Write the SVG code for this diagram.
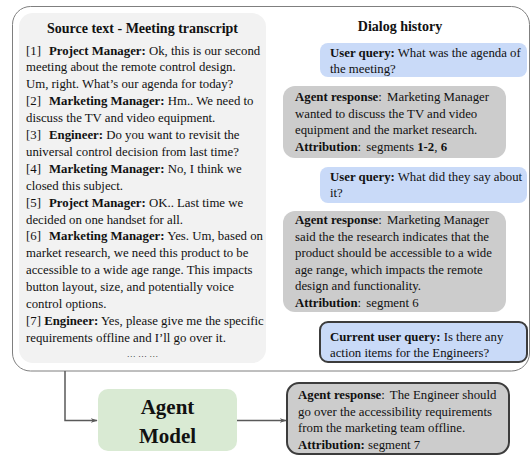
<svg xmlns="http://www.w3.org/2000/svg" width="532" height="456" viewBox="0 0 532 456">
<style>
text{font-family:"Liberation Serif","DejaVu Serif",serif;font-size:12.8px;fill:#111}
.b{font-weight:bold}
.h{font-weight:bold;font-size:14px}
.big{font-weight:bold;font-size:21px}
.uq{fill:#c9daf8}
.ar{fill:#cccccc}
.hl{stroke:#3c3c3c;stroke-width:2}
.conn{fill:none;stroke:#595959;stroke-width:1.5}
</style>
<defs>
<marker id="ah" viewBox="0 0 10 10" refX="9" refY="5" markerWidth="7" markerHeight="7" orient="auto" markerUnits="userSpaceOnUse">
<path d="M0,1.5 L10,5 L0,8.5 L3,5 Z" fill="#595959"/>
</marker>
</defs>
<g id="container">
<rect x="12.5" y="6.5" width="517" height="364.5" rx="18" fill="#fff" stroke="#7f7f7f" stroke-width="1"/>
</g>
<g id="source">
<rect x="19" y="13" width="247" height="350" rx="14" fill="#f2f2f2"/>
<text class="h" x="142.5" y="33" text-anchor="middle">Source text - Meeting transcript</text>
<text x="26" y="54.5">[1]<tspan class="b" x="49">Project Manager:</tspan> Ok, this is our second</text>
<text x="26" y="71.4">meeting about the remote control design.</text>
<text x="26" y="88.3">Um, right. What’s our agenda for today?</text>
<text x="26" y="105.2">[2]<tspan class="b" x="49">Marketing Manager:</tspan> Hm.. We need to</text>
<text x="26" y="122.1">discuss the TV and video equipment.</text>
<text x="26" y="139">[3]<tspan class="b" x="49">Engineer:</tspan> Do you want to revisit the</text>
<text x="26" y="155.9">universal control decision from last time?</text>
<text x="26" y="172.8">[4]<tspan class="b" x="49">Marketing Manager:</tspan> No, I think we</text>
<text x="26" y="189.7">closed this subject.</text>
<text x="26" y="206.6">[5]<tspan class="b" x="49">Project Manager:</tspan> OK.. Last time we</text>
<text x="26" y="223.5">decided on one handset for all.</text>
<text x="26" y="240.4">[6]<tspan class="b" x="49">Marketing Manager:</tspan> Yes. Um, based on</text>
<text x="26" y="257.3">market research, we need this product to be</text>
<text x="26" y="274.2">accessible to a wide age range. This impacts</text>
<text x="26" y="291.1">button layout, size, and potentially voice</text>
<text x="26" y="308">control options.</text>
<text x="26" y="324.9">[7] <tspan class="b">Engineer:</tspan> Yes, please give me the specific</text>
<text x="26" y="341.8">requirements offline and I’ll go over it.</text>
<text x="142.5" y="357" text-anchor="middle" style="font-size:9px">… … …</text>
</g>
<g id="dialog">
<text class="h" x="400" y="31" text-anchor="middle">Dialog history</text>
</g>
<g id="uq1">
<rect class="uq" x="320" y="43" width="207" height="34" rx="8"/>
<text x="330" y="57"><tspan class="b">User query:</tspan> What was the agenda of</text>
<text x="330" y="72.5">the meeting?</text>
</g>
<g id="ar1">
<rect class="ar" x="283" y="86" width="223" height="72" rx="12"/>
<text x="295" y="101"><tspan class="b">Agent response</tspan>: <tspan dx="2">Marketing Manager</tspan></text>
<text x="295" y="117.7">wanted to discuss the TV and video</text>
<text x="295" y="134.4">equipment and the market research.</text>
<text x="295" y="151"><tspan class="b">Attribution</tspan>: <tspan dx="2">segments </tspan><tspan class="b">1-2</tspan>, <tspan class="b">6</tspan></text>
</g>
<g id="uq2">
<rect class="uq" x="320" y="167" width="207" height="36" rx="8"/>
<text x="330" y="181"><tspan class="b">User query:</tspan> What did they say about</text>
<text x="330" y="197">it?</text>
</g>
<g id="ar2">
<rect class="ar" x="283" y="211" width="223" height="101" rx="12"/>
<text x="295" y="224"><tspan class="b">Agent response</tspan>: <tspan dx="2">Marketing Manager</tspan></text>
<text x="295" y="240.6">said the the research indicates that the</text>
<text x="295" y="257.2">product should be accessible to a wide</text>
<text x="295" y="273.8">age range, which impacts the remote</text>
<text x="295" y="290.4">design and functionality.</text>
<text x="295" y="307"><tspan class="b">Attribution</tspan>: <tspan dx="2">segment 6</tspan></text>
</g>
<g id="uq3">
<rect class="uq hl" x="320" y="322" width="207" height="40" rx="8"/>
<text x="330" y="341"><tspan class="b">Current user query:</tspan> Is there any</text>
<text x="330" y="357">action items for the Engineers?</text>
</g>
<g id="agent">
<rect x="98" y="389" width="139" height="62" rx="10" fill="#d9ead3"/>
<text class="big" x="167.5" y="414" text-anchor="middle">Agent</text>
<text class="big" x="167.5" y="443" text-anchor="middle">Model</text>
</g>
<g id="response">
<rect class="ar hl" x="287" y="383" width="222" height="71" rx="12"/>
<text x="298" y="399"><tspan class="b">Agent response</tspan>: <tspan dx="2">The Engineer should</tspan></text>
<text x="298" y="415.5">go over the accessibility requirements</text>
<text x="298" y="432">from the marketing team offline.</text>
<text x="298" y="448.5"><tspan class="b">Attribution:</tspan> segment 7</text>
</g>
<g id="connectors">
<path class="conn" d="M65,371 V420.5 H97" marker-end="url(#ah)"/>
<path class="conn" d="M237,420.5 H286" marker-end="url(#ah)"/>
</g>
</svg>
